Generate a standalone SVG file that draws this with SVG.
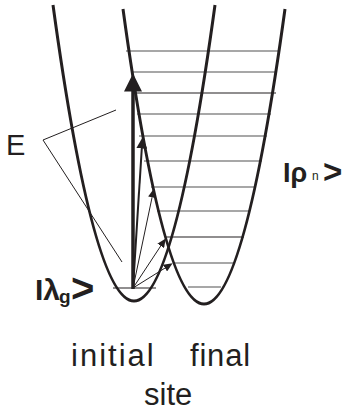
<svg xmlns="http://www.w3.org/2000/svg" width="345" height="417" viewBox="0 0 345 417">
<style>
.well{fill:none;stroke:#231f20;stroke-width:3}
.lvl{stroke:#8a8a8a;stroke-width:1.5}
.lvk{stroke:#231f20;stroke-width:1.1}
.ar{stroke:#231f20;fill:none}
.ptr{stroke:#231f20;stroke-width:1;fill:none}
.t{font-family:"Liberation Sans",Arial,sans-serif;fill:#231f20}
.b{font-weight:bold}
</style>
<defs>
<marker id="hs" markerUnits="userSpaceOnUse" markerWidth="9" markerHeight="8" viewBox="0 0 9 8" refX="0.5" refY="4" orient="auto"><path d="M0,0 L9,4 L0,8 z" fill="#231f20"/></marker>
<marker id="hm" markerUnits="userSpaceOnUse" markerWidth="11" markerHeight="11" viewBox="0 0 11 11" refX="0.5" refY="5.5" orient="auto"><path d="M0,0 L11,5.5 L0,11 z" fill="#231f20"/></marker>
<marker id="hl" markerUnits="userSpaceOnUse" markerWidth="18" markerHeight="18" viewBox="0 0 18 18" refX="0.5" refY="9" orient="auto"><path d="M0,0 L18,9 L0,18 z" fill="#231f20"/></marker>
</defs>
<g id="levels">
<line class="lvl" x1="126" y1="51" x2="278" y2="51"/>
<line class="lvl" x1="131" y1="72" x2="276" y2="72"/>
<line class="lvk" x1="132" y1="93" x2="276" y2="93"/>
<line class="lvl" x1="137" y1="114" x2="271" y2="114"/>
<line class="lvl" x1="139" y1="136" x2="267" y2="136"/>
<line class="lvl" x1="144" y1="161" x2="262" y2="161"/>
<line class="lvl" x1="151" y1="187" x2="256" y2="187"/>
<line class="lvl" x1="157" y1="211" x2="250" y2="211"/>
<line class="lvk" x1="166" y1="237" x2="244" y2="237"/>
<line class="lvl" x1="174" y1="263" x2="234" y2="263"/>
<line class="lvl" x1="188" y1="287" x2="221" y2="287"/>
<line class="lvk" x1="113" y1="288" x2="156" y2="288"/>
</g>
<g id="initial-well"><path class="well" d="M53 5 Q134 597 215 5"/></g>
<g id="final-well"><path class="well" d="M123 9 Q204 599 285 9"/></g>
<g id="connectors">
<line class="ar" stroke-width="3.5" x1="133" y1="289" x2="133" y2="91" marker-end="url(#hl)"/>
<line class="ar" stroke-width="2" x1="133" y1="288" x2="141.8" y2="148" marker-end="url(#hm)"/>
<line class="ar" stroke-width="1" x1="133" y1="288" x2="152.2" y2="196.8" marker-end="url(#hs)"/>
<line class="ar" stroke-width="1" x1="133" y1="288" x2="161" y2="245.5" marker-end="url(#hs)"/>
<line class="ar" stroke-width="1" x1="133" y1="288" x2="165.4" y2="267.8" marker-end="url(#hs)"/>
<polyline class="ptr" points="116,110 43,140 122,262"/>
</g>
<g id="label-E"><text class="t" x="6" y="155" font-size="29">E</text></g>
<g id="label-lambda">
<text class="t b" x="35" y="300" font-size="30">Iλ</text>
<text class="t b" x="59" y="303" font-size="19">g</text>
<text class="t b" x="71" y="302" font-size="40">&gt;</text>
</g>
<g id="label-rho">
<text class="t b" x="283" y="182" font-size="27">Iρ</text>
<text class="t" x="312" y="180" font-size="12">n</text>
<text class="t b" x="323" y="183" font-size="33">&gt;</text>
</g>
<g id="label-site">
<text class="t" x="71" y="366" font-size="31" letter-spacing="2">initial</text>
<text class="t" x="190" y="366" font-size="31" letter-spacing="0.8">final</text>
<text class="t" x="144" y="405" font-size="31">site</text>
</g>
</svg>
